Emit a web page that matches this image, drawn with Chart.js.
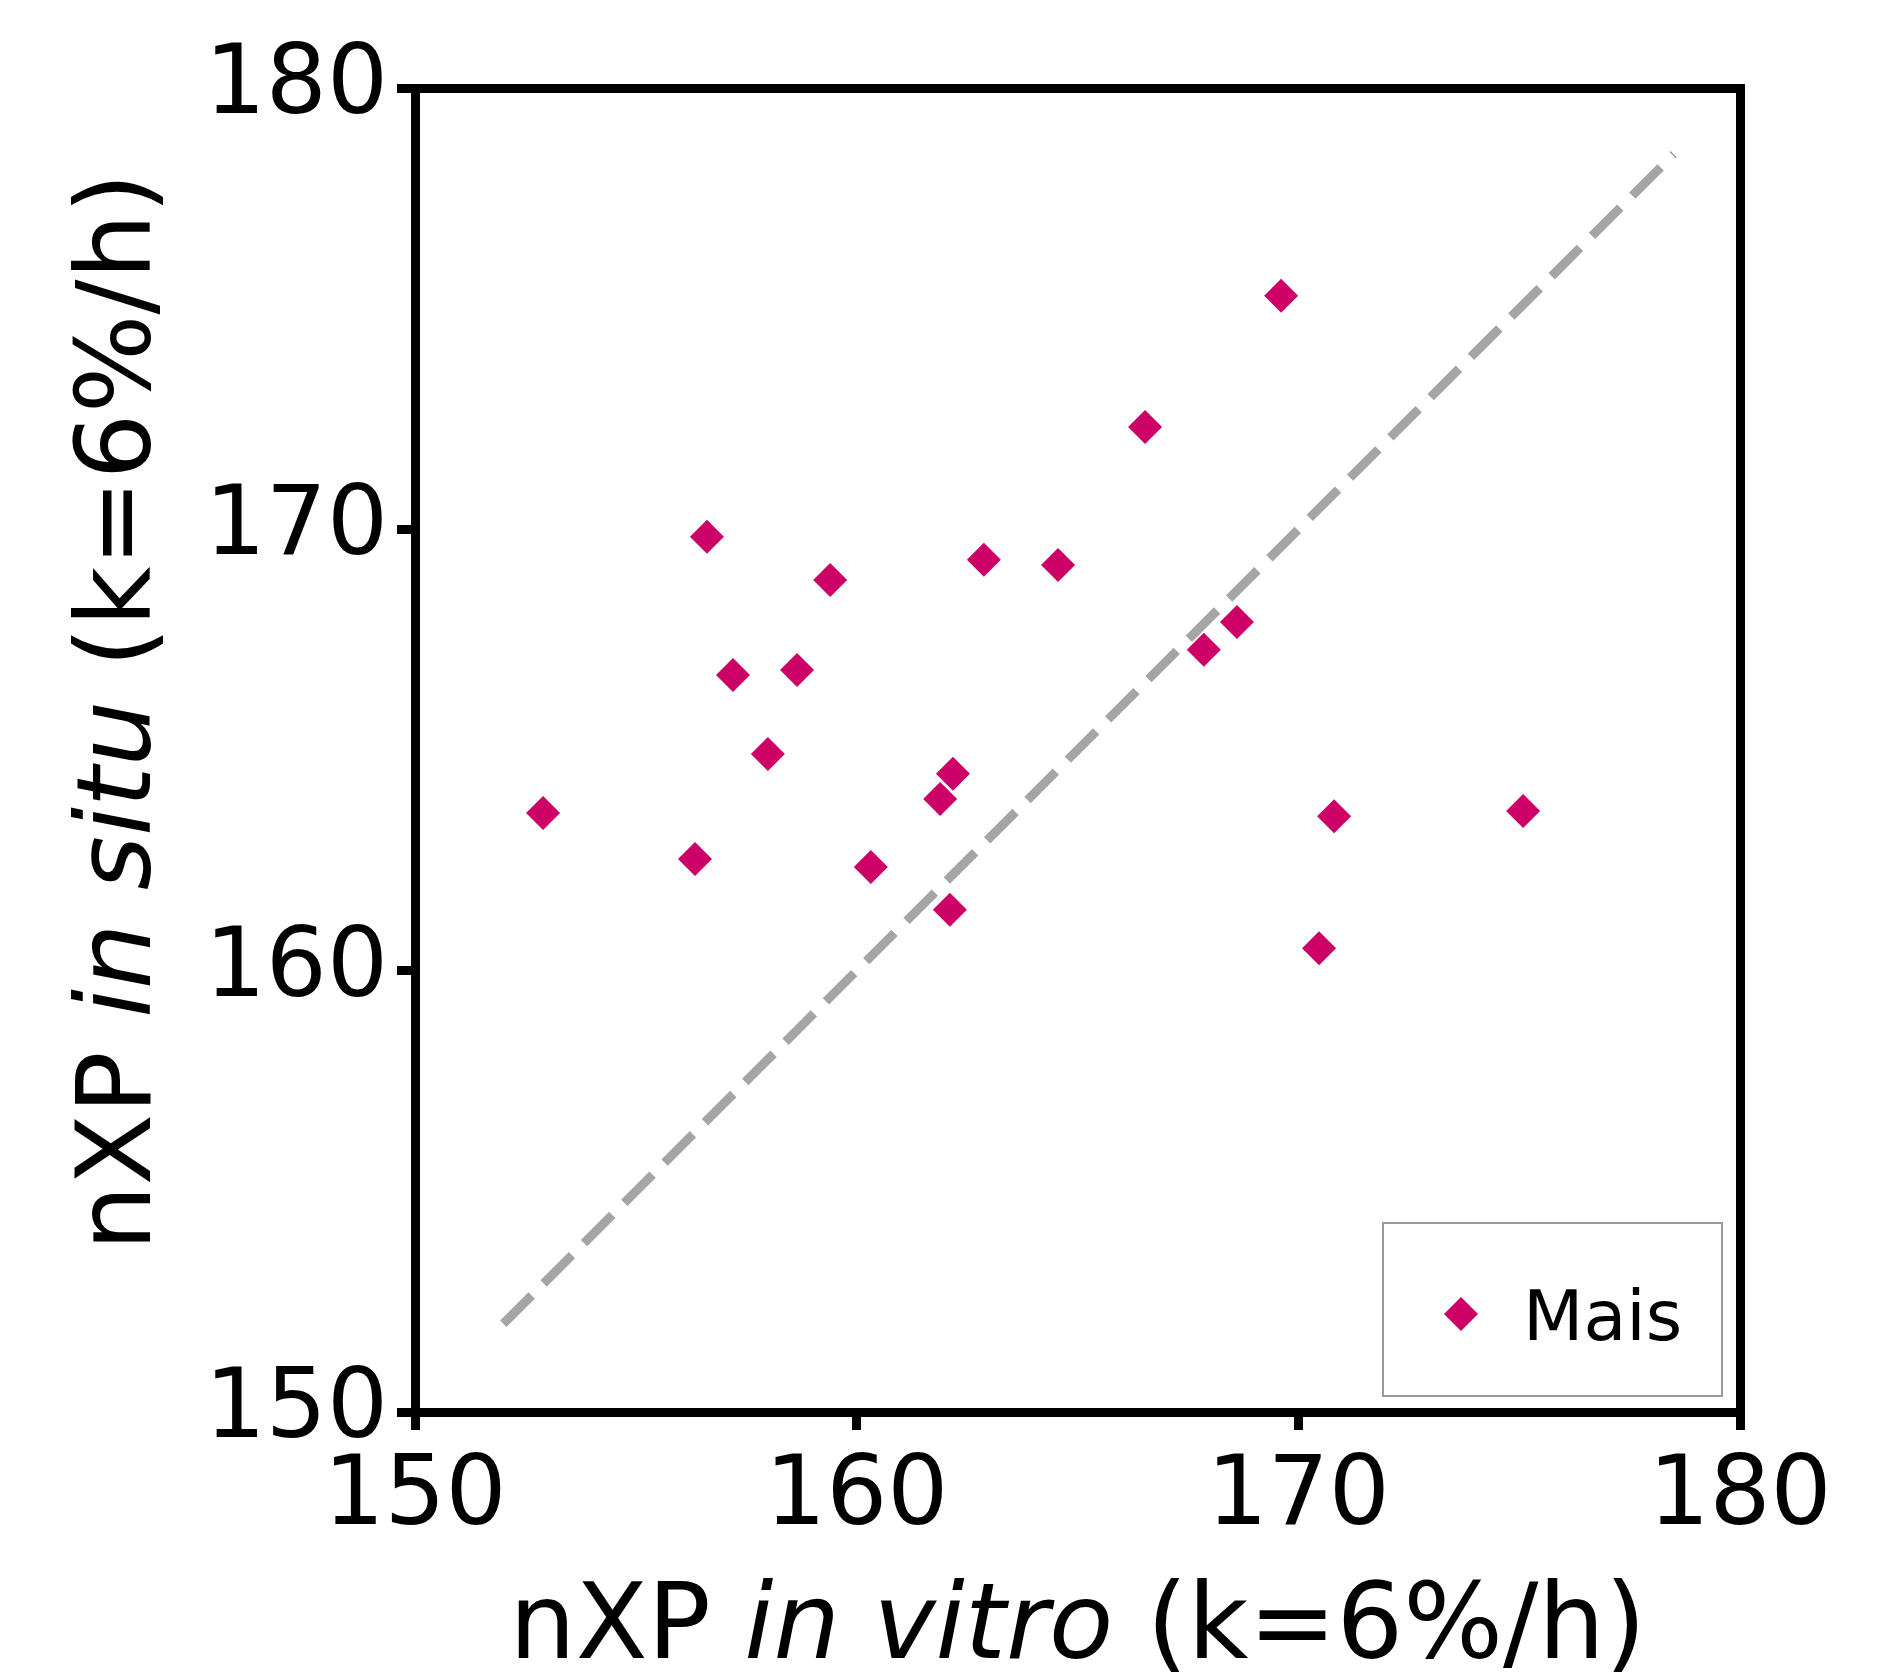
<!DOCTYPE html>
<html>
<head>
<meta charset="utf-8">
<script src="https://cdn.jsdelivr.net/npm/chart.js@4.4.1/dist/chart.umd.min.js"></script>
<style>
  html, body { margin: 0; padding: 0; background: #fff; }
  canvas { display: block; }
</style>
</head>
<body>
<canvas id="nxpChart" width="1884" height="1673"></canvas>
<script>
// values
const inVitro = [152.9, 156.34, 156.61, 157.2, 157.99, 158.65, 159.4, 160.32, 161.89, 162.18, 162.11, 162.88, 164.56, 166.53, 167.86, 168.61, 169.61, 170.47, 170.81, 175.09]
const inSitu = [163.57, 162.53, 169.83, 166.7, 164.91, 166.81, 168.85, 162.35, 163.89, 164.46, 161.38, 169.31, 169.19, 172.32, 167.27, 167.9, 175.29, 160.51, 163.5, 163.62]
const lineX = [152, 178.5]
const lineY = [152, 178.5]
const axisTicks = [150, 160, 170, 180]
const seriesLabel = 'Mais'
const xTitle = [['nXP ', false], ['in vitro', true], [' (k=6%/h)', false]]
const yTitle = [['nXP ', false], ['in situ', true], [' (k=6%/h)', false]]

const ctx = document.getElementById('nxpChart')
const magenta = '#cc0066'
const frame = { display: true, color: '#000', width: 9 }
const tickFont = { family: '"DejaVu Sans", sans-serif', size: 96, lineHeight: 1 }

function richText(c, parts, size) {
  const widths = parts.map(([t, it]) => {
    c.font = (it ? 'italic ' : '') + size + 'px "DejaVu Sans"'
    return c.measureText(t).width
  })
  let x = -widths.reduce((a, b) => a + b, 0) / 2
  parts.forEach(([t, it], i) => {
    c.font = (it ? 'italic ' : '') + size + 'px "DejaVu Sans"'
    c.fillText(t, x, 0)
    x += widths[i]
  })
}

// axis titles (with italic parts) and the boxed legend
const extras = {
  id: 'extras',
  afterDraw(chart) {
    const c = chart.ctx
    const area = chart.chartArea
    c.save()
    c.fillStyle = '#000'
    c.textAlign = 'left'
    c.textBaseline = 'alphabetic'

    c.save()
    c.translate((area.left + area.right) / 2, 1658)
    richText(c, xTitle, 105)
    c.restore()

    c.save()
    c.translate(150, 712)
    c.rotate(-Math.PI / 2)
    richText(c, yTitle, 104)
    c.restore()

    const w = 339, h = 173
    const bx = area.right - 18 - w, by = area.bottom - 16 - h
    c.strokeStyle = '#9a9a9a'
    c.lineWidth = 2
    c.strokeRect(bx, by, w, h)

    const mx = bx + 78, my = by + 91, r = 17
    c.fillStyle = chart.data.datasets[0].backgroundColor
    c.beginPath()
    c.moveTo(mx - r, my); c.lineTo(mx, my - r); c.lineTo(mx + r, my); c.lineTo(mx, my + r)
    c.closePath()
    c.fill()

    c.fillStyle = '#000'
    c.font = '70px "DejaVu Sans"'
    c.fillText(chart.data.datasets[0].label, bx + 140, by + 117)
    c.restore()
  }
}

const setTicks = axis => { axis.ticks = axisTicks.map(v => ({ value: v })) }

new Chart(ctx, {
  type: 'scatter',
  data: {
    datasets: [{
      label: seriesLabel,
      data: inVitro.map((x, i) => ({ x: x, y: inSitu[i] })),
      backgroundColor: magenta,
      borderColor: magenta,
      borderWidth: 0,
      pointStyle: 'rectRot',
      pointRadius: 17,
      pointHoverRadius: 17,
      order: 1
    }, {
      type: 'line',
      label: '1:1',
      data: lineX.map((x, i) => ({ x: x, y: lineY[i] })),
      borderColor: '#a5a5a8',
      borderWidth: 9,
      borderDash: [40, 17],
      borderCapStyle: 'butt',
      pointRadius: 0,
      fill: false,
      order: 2
    }]
  },
  options: {
    responsive: false,
    animation: false,
    devicePixelRatio: 1,
    events: [],
    layout: { padding: { left: 0, top: 88, right: 144, bottom: 0 } },
    plugins: {
      legend: { display: false },
      tooltip: { enabled: false }
    },
    scales: {
      x: {
        type: 'linear', position: 'bottom', min: 150, max: 180,
        afterBuildTicks: setTicks,
        afterFit: axis => { axis.height = 261 },
        grid: { drawOnChartArea: false, drawTicks: true, tickLength: 18, lineWidth: 9, color: '#000' },
        border: frame,
        ticks: { color: '#000', padding: 21, font: tickFont, autoSkip: false, maxRotation: 0 }
      },
      y: {
        type: 'linear', position: 'left', min: 150, max: 180,
        afterBuildTicks: setTicks,
        afterFit: axis => { axis.width = 415 },
        grid: { drawOnChartArea: false, drawTicks: true, tickLength: 18, lineWidth: 9, color: '#000' },
        border: frame,
        ticks: { color: '#000', padding: 9, font: tickFont, autoSkip: false }
      },
      x2: {
        type: 'linear', position: 'top', min: 150, max: 180,
        afterFit: axis => { axis.height = 0 },
        grid: { display: false, lineWidth: 9 },
        border: frame,
        ticks: { display: false }
      },
      y2: {
        type: 'linear', position: 'right', min: 150, max: 180,
        afterFit: axis => { axis.width = 0 },
        grid: { display: false, lineWidth: 9 },
        border: frame,
        ticks: { display: false }
      }
    }
  },
  plugins: [extras]
})
</script>
</body>
</html>
